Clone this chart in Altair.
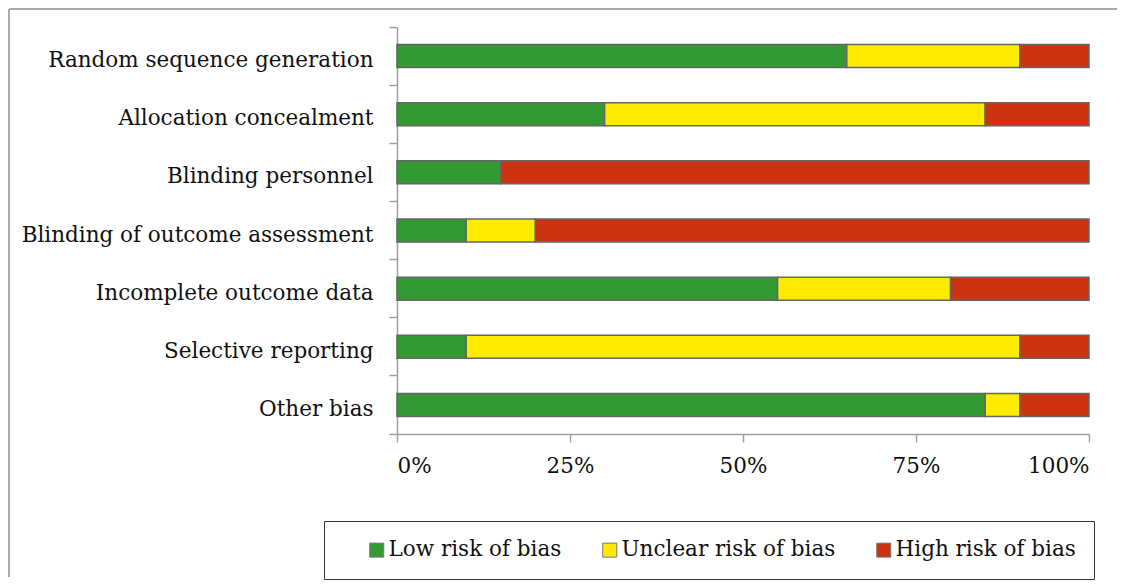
import altair as alt
import pandas as pd

categories = [
    "Random sequence generation",
    "Allocation concealment",
    "Blinding personnel",
    "Blinding of outcome assessment",
    "Incomplete outcome data",
    "Selective reporting",
    "Other bias",
]
risk_levels = ["Low risk of bias", "Unclear risk of bias", "High risk of bias"]
low = [65, 30, 15, 10, 55, 10, 85]
unclear = [25, 55, 0, 10, 25, 80, 5]
high = [10, 15, 85, 80, 20, 10, 10]
colors = ["#339933", "#FFEB00", "#CC3311"]
x_ticks = [0, 25, 50, 75, 100]

FONT = "DejaVu Serif"
FS = 21.5

rows = []
for i, c in enumerate(categories):
    for j, (lvl, vals) in enumerate(zip(risk_levels, [low, unclear, high])):
        if vals[i] > 0:
            rows.append({"domain": c, "risk": lvl, "pct": vals[i], "order": j})
df = pd.DataFrame(rows)

bars = alt.Chart(df).mark_bar(size=23, stroke="#666666", strokeWidth=1.5).encode(
    y=alt.Y(
        "domain:N",
        sort=categories,
        scale=alt.Scale(paddingInner=0, paddingOuter=0),
        axis=alt.Axis(
            title=None,
            labelFont=FONT,
            labelFontSize=FS,
            labelColor="#111111",
            labelPadding=16,
            labelLimit=500,
            labelOffset=5,
            tickSize=8,
            tickColor="#a0a0a0",
            tickWidth=1.5,
            domainColor="#a0a0a0",
            domainWidth=1.5,
            bandPosition=1,
            tickExtra=True,
        ),
    ),
    x=alt.X(
        "pct:Q",
        stack="zero",
        scale=alt.Scale(domain=[0, 100], nice=False),
        axis=alt.Axis(
            title=None,
            values=x_ticks,
            labelExpr="datum.value + '%'",
            labelFont=FONT,
            labelFontSize=FS,
            labelColor="#111111",
            labelPadding=13,
            tickSize=8,
            tickColor="#a0a0a0",
            tickWidth=1.5,
            domainColor="#a0a0a0",
            domainWidth=1.5,
            grid=False,
        ),
    ),
    color=alt.Color(
        "risk:N",
        sort=risk_levels,
        scale=alt.Scale(domain=risk_levels, range=colors),
        legend=alt.Legend(
            orient="none",
            legendX=-73,
            legendY=494,
            direction="horizontal",
            title=None,
            symbolType="square",
            symbolSize=196,
            symbolStrokeColor="#777777",
            symbolStrokeWidth=1,
            labelFont=FONT,
            labelFontSize=FS,
            labelColor="#111111",
            labelLimit=400,
            labelOffset=1,
            symbolOffset=24,
            strokeColor="#333333",
            fillColor="#ffffff",
            padding=18,
            columnPadding=13,
        ),
    ),
    order=alt.Order("order:Q"),
)

frame_df = pd.DataFrame({"k": [0]})
frame_top = alt.Chart(frame_df).mark_rule(color="#aaaaaa", strokeWidth=2).encode(
    x=alt.value(-388), x2=alt.value(720), y=alt.value(-18)
)
frame_left = alt.Chart(frame_df).mark_rule(color="#aaaaaa", strokeWidth=2).encode(
    x=alt.value(-388), y=alt.value(-18), y2=alt.value(550)
)

chart = (
    alt.layer(bars, frame_top, frame_left)
    .properties(width=692, height=407, padding=0, background="#ffffff")
    .configure_view(stroke=None)
)

chart.save("out.html", embed_options={"renderer": "svg", "actions": False})
